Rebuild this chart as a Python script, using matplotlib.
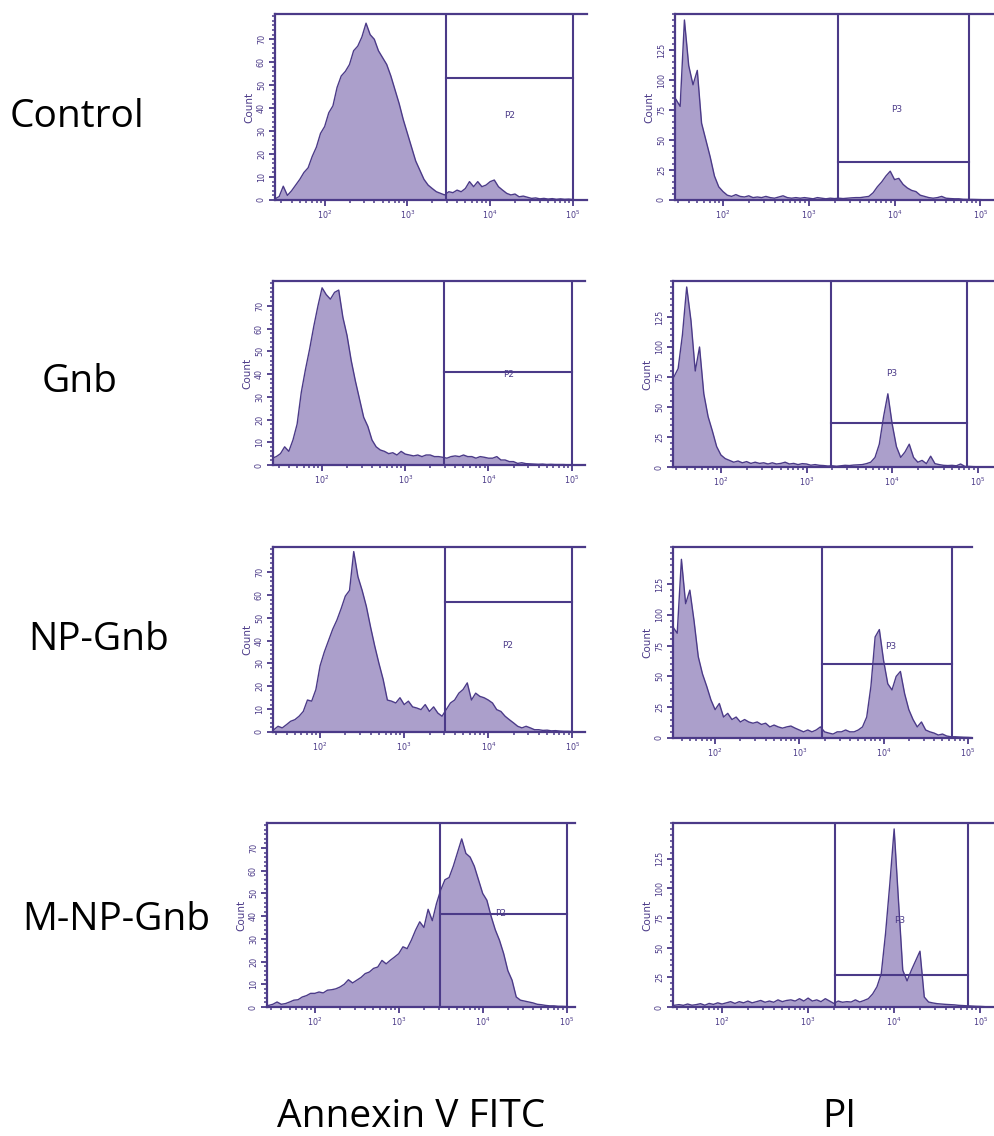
import numpy as np
import matplotlib; matplotlib.use("Agg")
import matplotlib.pyplot as plt
from matplotlib.ticker import MultipleLocator, FixedLocator

W, H = 994, 1136
LINE = '#4b3a88'; FILL = '#ab9fcb'

# --- histogram channels (log10 intensity), 0.05 decade bins ---
logx = np.round(np.arange(1.40, 5.151, 0.05), 2)

# Annexin V FITC counts (left column)
ann_control = [0.5, 1.5, 6, 2, 4, 6.5, 9, 12, 14, 19,
               23, 29, 32, 38, 41, 49, 54, 56, 59, 65,
               67, 71, 77, 72, 70, 65, 62, 59, 54, 48,
               42, 35, 29, 23, 17, 13, 9, 6.5, 5, 3.6,
               2.9, 2.2, 3.6, 3.2, 4.3, 3.6, 5, 8, 5.8, 8,
               5.8, 6.5, 8, 8.7, 5.8, 4.3, 2.9, 2.2, 2.6, 1.4,
               1.7, 1.2, 0.7, 0.9, 0.5, 0.7, 0.4, 0.6, 0.3, 0.5,
               0.3, 0.4, 0.2, 0, 0, 0]
ann_gnb = [3, 3.7, 5, 8, 6, 11, 18, 32, 42, 51,
           61, 70, 78, 75, 73, 76, 77, 65, 57, 46,
           37, 29, 21, 17, 11, 8, 6.6, 6, 5, 5.4,
           4.4, 6, 4.8, 4.4, 4, 4.4, 3.7, 4.4, 4.4, 3.7,
           3.7, 3.4, 3, 3.7, 4, 3.7, 4.4, 3.7, 3.7, 3,
           3.7, 3.4, 3, 3, 3.7, 2.2, 2.2, 1.5, 1.5, 0.7,
           1, 0.6, 0.5, 0.4, 0.3, 0.4, 0.2, 0.3, 0.2, 0.2,
           0.2, 0.1, 0.1, 0, 0, 0]
ann_npgnb = [0.5, 1, 2.5, 1.8, 3.2, 4.7, 5.4, 6.9, 9, 14,
             13.5, 18.6, 29, 35, 40, 45, 49, 54, 59.5, 62,
             79, 68, 62, 55, 46, 37.6, 30, 23, 14, 13.5,
             12.7, 15, 12, 13.5, 11, 10.5, 9.8, 12, 9, 11,
             8.3, 6.9, 9.8, 12.7, 14, 17, 18.6, 21.5, 14, 17,
             15.6, 15, 14, 12.7, 9.8, 9, 6.9, 5.4, 4, 2.5,
             1.8, 2.5, 1.8, 1, 1, 0.7, 0.8, 0.5, 0.6, 0.4,
             0.3, 0.3, 0.2, 0, 0, 0]
ann_mnpgnb = [0.5, 0.7, 1.2, 2.2, 1.2, 1.5, 2.2, 3, 3.2, 4.4,
              5, 6, 6, 6.6, 6.2, 7.4, 7.6, 8, 8.8, 10,
              12, 10.6, 11.8, 13, 14.7, 15.4, 17, 17.6, 20.5, 19,
              20.6, 22, 23.5, 26.5, 25.7, 29.4, 33.8, 37.5, 35, 43,
              38, 45.6, 51.5, 56, 57, 62, 68, 74, 67.6, 66,
              62, 56, 50, 47, 40, 34, 29.4, 23.5, 16, 11.8,
              4.4, 3, 2.6, 2.2, 1.8, 1.2, 1, 0.7, 0.5, 0.5,
              0.3, 0.3, 0.2, 0, 0, 0]

# PI counts (right column)
pi_control = [86, 84, 78, 150, 112, 96, 108, 64, 50, 36,
              20, 11, 7, 4, 3, 4.5, 3, 2.5, 3.5, 2,
              2.5, 2, 3, 2, 1.5, 2.5, 3.5, 2, 1.5, 2,
              1.5, 2, 1.5, 1, 2, 1.5, 1, 1.5, 1.2, 1.5,
              1.2, 1.5, 1.8, 2, 2, 2.5, 3, 6, 11, 15,
              20, 24, 17, 18, 13, 10, 8, 7, 4, 3,
              2, 1.5, 2, 3, 1.5, 1.2, 1, 1, 0.6, 0.5,
              0.5, 0.4, 0.3, 0.2, 0.2, 0]
pi_gnb = [70, 75, 82, 110, 150, 122, 80, 100, 61, 42,
          30, 17, 10, 7, 5.5, 4, 5, 3.5, 4.5, 3,
          4, 3, 3.5, 2.5, 3.5, 2.5, 3, 4, 2.5, 3,
          2, 2.8, 2.5, 1.5, 2, 1.4, 1.2, 0.8, 1, 0.6,
          1, 1.4, 1.2, 1.6, 1.8, 2, 2.8, 4, 8, 19,
          42, 61, 36, 17, 8, 12.5, 19, 8, 4, 5.5,
          2.8, 9, 2.8, 2, 1.4, 1.2, 1.4, 1, 2.5, 0.5,
          0.5, 0.3, 0.2, 0.2, 0, 0]
pi_npgnb = [80, 85, 90, 85, 145, 109, 120, 95, 66, 52,
            42, 31, 23, 28, 17, 20, 15, 17, 13, 15,
            13, 12, 13, 11, 12, 9, 10.5, 9, 8, 9,
            9.7, 8, 6.5, 5, 6.5, 5, 6.5, 9, 5, 4,
            3.2, 5, 5, 6.5, 5, 5, 6.5, 9, 17, 42,
            82, 88, 63, 44, 39, 50, 54, 36, 23, 15,
            9, 13, 6.5, 5, 4, 2.4, 3.2, 1.6, 1, 1,
            0.8, 0.6, 0.5, 0.3, 0, 0]
pi_mnpgnb = [1, 1.5, 2, 1.4, 2.5, 1.5, 2, 2.8, 1.5, 3,
             2.2, 3.5, 2.5, 3.5, 4.5, 3, 4.5, 3.5, 5, 3.5,
             4.5, 5.5, 4, 5, 4, 6, 4.5, 5.5, 6, 5,
             7, 5, 7.5, 5, 6, 4.5, 7, 5, 3, 5,
             4, 4.5, 4.2, 6, 4.2, 5.5, 7, 11, 17, 28,
             62, 104, 150, 90, 31, 22, 31, 39, 47, 8.4,
             4.2, 3.4, 2.8, 2.5, 2.2, 2, 1.8, 1.4, 1.2, 1,
             0.8, 0.6, 0.5, 0.3, 0, 0]

row_names = ['Control', 'Gnb', 'NP-Gnb', 'M-NP-Gnb']
ann_series = [ann_control, ann_gnb, ann_npgnb, ann_mnpgnb]
pi_series = [pi_control, pi_gnb, pi_npgnb, pi_mnpgnb]

# gates: (low, high, level) and label position (x, count)
ann_gates = [(3.47, 5.0, 53), (3.47, 5.0, 41), (3.48, 5.0, 57), (3.49, 5.0, 41)]
ann_glabel = [(4.23, 37), (4.24, 40), (4.23, 38), (4.21, 41)]
pi_gates = [(3.34, 4.87, 32), (3.28, 4.87, 37), (3.27, 4.81, 60), (3.31, 4.86, 27)]
pi_glabel = [(4.03, 75), (4.00, 78), (4.08, 74), (4.07, 73)]

# panel boxes in pixels (left, right, top, bottom) and x limits
ann_boxes = [(275, 587, 14, 200), (273, 585, 281, 465), (273, 585, 547, 732), (267, 575, 823, 1007)]
ann_xlim = [(1.40, 5.17), (1.41, 5.16), (1.44, 5.15), (1.43, 5.10)]
pi_boxes = [(675, 1000, 14, 200), (673, 1000, 281, 467), (673, 972, 547, 738), (673, 1000, 823, 1007)]
pi_xlim = [(1.44, 5.23), (1.44, 5.26), (1.50, 5.05), (1.43, 5.23)]

minor_x = [np.log10(k * 10.0**d) for d in range(1, 5) for k in range(2, 10)]

fig = plt.figure(figsize=(W / 100, H / 100), dpi=100)


def panel(box, xlim, y, gate, glab, gname, ymax, yticks, yminor):
    l, r, t, b = box
    ax = fig.add_axes([l / W, 1 - b / H, (r - l) / W, (b - t) / H])
    ax.fill_between(logx, y, 0, color=FILL, lw=0)
    ax.plot(logx, y, color=LINE, lw=1.0)
    lo, hi, lev = gate
    ax.plot([lo, lo], [0, ymax], color=LINE, lw=1.5)
    ax.plot([hi, hi], [0, ymax], color=LINE, lw=1.5)
    ax.plot([lo, hi], [lev, lev], color=LINE, lw=1.5)
    ax.text(glab[0], glab[1], gname, fontsize=6.5, color=LINE, ha='center', va='center')
    ax.set_xlim(*xlim); ax.set_ylim(0, ymax)
    for s in ['left', 'bottom', 'top']:
        ax.spines[s].set_color(LINE); ax.spines[s].set_linewidth(1.6)
    ax.spines['right'].set_visible(False)
    ax.set_xticks([2, 3, 4, 5])
    ax.set_xticklabels(['$10^2$', '$10^3$', '$10^4$', '$10^5$'])
    ax.xaxis.set_minor_locator(FixedLocator(minor_x))
    ax.set_yticks(yticks)
    ax.yaxis.set_minor_locator(MultipleLocator(yminor))
    ax.tick_params(axis='both', which='major', colors=LINE, labelsize=5.8, length=4.5, width=1.3, pad=2)
    ax.tick_params(axis='both', which='minor', colors=LINE, length=2.5, width=1.1)
    plt.setp(ax.get_yticklabels(), rotation=90, va='center')
    ax.set_ylabel('Count', fontsize=7.5, color=LINE, labelpad=2)
    return ax


for i in range(4):
    panel(ann_boxes[i], ann_xlim[i], ann_series[i], ann_gates[i], ann_glabel[i], 'P2',
          81, range(0, 71, 10), 2)
    panel(pi_boxes[i], pi_xlim[i], pi_series[i], pi_gates[i], pi_glabel[i], 'P3',
          155, range(0, 126, 25), 5)

# row and column labels
lab_font = dict(fontsize=28, family=['Open Sans', 'DejaVu Sans'], color='black', va='baseline')
row_pos = [(10, 127), (42, 392), (28, 650), (22, 930)]
for name, (px, py) in zip(row_names, row_pos):
    fig.text(px / W, 1 - py / H, name, ha='left', **lab_font)
fig.text(277 / W, 1 - 1127 / H, 'Annexin V FITC', ha='left', **lab_font)
fig.text(822 / W, 1 - 1127 / H, 'PI', ha='left', **lab_font)

fig.savefig('out.png', dpi=100)
